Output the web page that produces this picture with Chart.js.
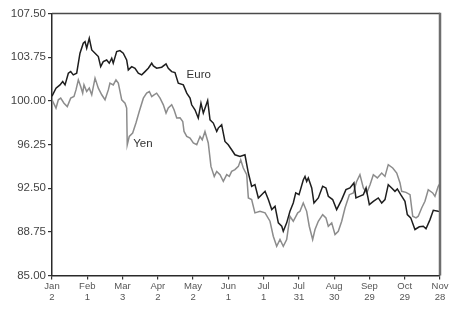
<!DOCTYPE html>
<html>
<head>
<meta charset="utf-8">
<script src="https://cdn.jsdelivr.net/npm/chart.js@4.4.1/dist/chart.umd.min.js"></script>
<style>
    html, body { margin: 0; padding: 0; background: #fff; }
    #wrap { width: 458px; height: 313px; }
</style>
</head>
<body>
<div id="wrap"><canvas id="fx-chart" width="458" height="313"></canvas></div>
<script>
// days counted from Jan 2
var euroDays = [0, 3.4, 6.8, 9.1, 11.1, 13.9, 15.9, 18.1, 21, 23.8, 26.6, 28.1, 29.5, 31.7, 33.8, 36.6, 39.4, 41.4, 43.6, 46.5,
    48.7, 50.8, 52.1, 55, 57.8, 60.6, 63.5, 64.9, 67.8, 70.6, 73.4, 76.3, 79.1, 81.9, 84.8, 86.2, 89, 93.3, 97, 98.9,
    101.8, 104.6, 107.4, 111.7, 114.6, 117.4, 118.8, 121.6, 124.4, 126.7, 128.7, 132.4, 134.4, 137.2, 140.1, 141.4, 144.3, 147.1, 149.9, 152.8,
    155.6, 159.9, 164.1, 167, 169.8, 172.6, 175.5, 178.3, 181.2, 184, 186.9, 189.7, 192.5, 195.4, 196.7, 199.6, 202.4, 205.2, 207.3, 210.1,
    213.7, 215.2, 216.6, 218, 220.9, 222.8, 226.5, 230.2, 233, 235, 238.7, 242.1, 246.4, 250, 253.4, 256.8, 258.5, 261.4, 264.8, 267.1,
    269.9, 273.3, 277.5, 280.4, 283.2, 286, 288.9, 291.7, 293.7, 296.6, 300.2, 302.2, 305.1, 308.7, 312.4, 315.8, 318.1, 321.5, 324.3, 328.5, 330];
var euroValues = [100.4, 101.09, 101.37, 101.66, 101.37, 102.37, 102.51, 102.23, 102.37, 104.09, 104.95, 105.08, 104.52, 105.37, 104.37, 104.09, 103.8, 102.94, 103.37, 103.51,
    103.23, 103.66, 103.23, 104.23, 104.31, 104.09, 103.51, 102.66, 102.94, 102.8, 102.37, 102.23, 102.51, 102.8, 103.23, 103.0, 102.8, 102.89, 103.17, 102.8,
    102.51, 102.43, 101.52, 101.37, 100.66, 100.23, 99.66, 99.23, 98.52, 99.8, 98.95, 100.03, 98.37, 98.09, 97.37, 97.66, 97.94, 96.51, 96.23, 95.8,
    95.37, 95.23, 95.37, 93.8, 92.66, 92.8, 91.66, 91.94, 92.23, 91.52, 90.66, 90.94, 89.52, 89.23, 88.8, 89.52, 90.51, 91.23, 92.09, 91.94,
    93.2, 93.51, 93.08, 93.38, 92.52, 91.23, 91.66, 92.66, 92.52, 91.8, 91.52, 90.66, 91.52, 92.37, 92.52, 92.95, 91.66, 91.8, 91.94, 92.52,
    91.09, 91.37, 91.66, 91.23, 91.52, 92.8, 92.52, 92.23, 92.43, 91.94, 91.37, 90.23, 89.95, 88.95, 89.18, 89.23, 89.01, 89.8, 90.6, 90.51, 90.5];

var yenDays = [0, 3.4, 5.4, 7.4, 10.2, 13, 15.9, 18.7, 20.4, 22.4, 24.4, 26.1, 27.2, 29.5, 31.7, 33.8, 36.6, 39.4, 42.3, 45.1,
    47.9, 49.3, 52.1, 54.4, 56.4, 59.3, 62.1, 63.5, 64, 65.7, 68.6, 71.4, 74.2, 77.7, 80.5, 82.8, 84.8, 86.8, 89, 91.9,
    94.7, 97, 98.9, 101.8, 103.8, 106.1, 108.9, 111.2, 112.3, 114.6, 117.4, 120.2, 123.1, 125.9, 127.8, 130.1, 132.9, 135.2, 138, 140.1,
    142.9, 145.7, 148.6, 150.8, 152.8, 155.6, 158.5, 160.5, 162.7, 165.6, 167, 169.8, 172.6, 176.9, 181.2, 185.4, 188.2, 191.1, 193.9, 196.7,
    199.6, 202.4, 205.2, 209, 210.9, 213.7, 216.6, 218.8, 221.7, 223.7, 226.5, 230.2, 233, 235, 237.9, 240.7, 243.5, 246.4, 249.2, 252.9,
    256.3, 259.1, 261.9, 264.8, 267.7, 270.5, 273.3, 276.7, 280.4, 283.2, 286, 289.8, 293.2, 296, 297.4, 301.1, 304.5, 306.8, 309.6, 311.5,
    314.4, 317.2, 320, 323.8, 325.7, 328.5, 330];
var yenValues = [100.09, 99.38, 100.09, 100.23, 99.8, 99.51, 100.23, 100.37, 100.94, 101.8, 101.23, 100.66, 101.37, 100.8, 101.09, 100.52, 101.95, 101.09, 100.52, 100.09,
    100.94, 101.52, 101.37, 101.8, 101.52, 100.09, 99.8, 99.38, 96.23, 96.94, 97.23, 98.09, 99.08, 100.23, 100.66, 100.8, 100.37, 100.52, 100.66, 100.23,
    99.66, 98.95, 99.38, 99.66, 99.23, 98.52, 98.54, 98.23, 97.37, 96.94, 96.8, 96.38, 96.23, 96.94, 96.66, 97.37, 96.38, 94.37, 93.51, 93.94,
    93.66, 93.08, 93.66, 93.51, 93.94, 94.09, 94.37, 94.94, 94.23, 93.66, 91.66, 91.52, 90.38, 90.51, 90.38, 89.66, 88.37, 87.51, 88.09, 87.51,
    88.09, 90.09, 89.66, 90.38, 90.51, 91.23, 90.51, 89.23, 88.09, 88.95, 89.66, 90.23, 89.95, 89.23, 89.52, 88.52, 88.8, 89.66, 90.8, 91.94,
    92.09, 93.08, 93.66, 92.52, 92.09, 92.8, 93.66, 93.38, 93.8, 93.51, 94.52, 94.23, 93.8, 92.95, 92.23, 92.14, 91.94, 90.09, 89.95, 90.09,
    90.8, 91.37, 92.37, 92.09, 91.8, 92.66, 92.9];

var tickMonths = ['Jan', 'Feb', 'Mar', 'Apr', 'May', 'Jun', 'Jul', 'Jul', 'Aug', 'Sep', 'Oct', 'Nov'];
var tickDates = ['2', '1', '3', '2', '2', '1', '1', '31', '30', '29', '29', '28'];
var tickStep = 30;

function toPoints(days, values) {
    return days.map(function (d, i) { return { x: d, y: values[i] }; });
}

// series names written next to the lines, anchored in data units
var lineLabels = [
    { text: 'Euro', day: 114.5, value: 102.25 },
    { text: 'Yen', day: 69, value: 96.35 }
];

var framePlugin = {
    id: 'frame',
    afterDatasetsDraw: function (chart) {
        var ctx = chart.ctx, a = chart.chartArea;
        ctx.save();
        ctx.strokeStyle = '#4a4a4a';
        ctx.lineWidth = 1.5;
        ctx.beginPath();
        ctx.moveTo(a.left, a.top);
        ctx.lineTo(a.right, a.top);
        ctx.stroke();
        ctx.strokeStyle = '#6e6e6e';
        ctx.lineWidth = 2.5;
        ctx.beginPath();
        ctx.moveTo(a.right, a.top - 0.75);
        ctx.lineTo(a.right, a.bottom);
        ctx.stroke();

        ctx.fillStyle = '#333';
        ctx.font = '11.5px "Liberation Sans", Arial, sans-serif';
        ctx.textBaseline = 'middle';
        ctx.textAlign = 'left';
        lineLabels.forEach(function (l) {
            ctx.fillText(l.text, chart.scales.x.getPixelForValue(l.day), chart.scales.y.getPixelForValue(l.value));
        });
        ctx.restore();
    }
};

var ctx = document.getElementById('fx-chart');
new Chart(ctx, {
    type: 'line',
    data: {
        datasets: [
            {
                label: 'Euro',
                data: toPoints(euroDays, euroValues),
                borderColor: '#1e1e1e',
                borderWidth: 1.5,
                pointRadius: 0,
                tension: 0
            },
            {
                label: 'Yen',
                data: toPoints(yenDays, yenValues),
                borderColor: '#8c8c8c',
                borderWidth: 1.5,
                pointRadius: 0,
                tension: 0
            }
        ]
    },
    options: {
        responsive: false,
        animation: false,
        layout: { padding: { top: 13.5, right: 18, left: 0, bottom: 0 } },
        plugins: {
            legend: { display: false },
            tooltip: { enabled: false }
        },
        scales: {
            x: {
                type: 'linear',
                min: 0,
                max: 330,
                afterBuildTicks: function (scale) {
                    scale.ticks = tickMonths.map(function (m, i) { return { value: i * tickStep }; });
                },
                afterFit: function (scale) { scale.height = 37.5; },
                ticks: {
                    autoSkip: false,
                    maxRotation: 0,
                    padding: 1,
                    color: '#555',
                    font: { family: '"Liberation Sans", Arial, sans-serif', size: 9.5, lineHeight: 1.15 },
                    callback: function (v) {
                        var i = Math.round(v / tickStep);
                        return [tickMonths[i], tickDates[i]];
                    }
                },
                grid: { drawOnChartArea: false, drawTicks: true, tickLength: 4, color: '#333', lineWidth: 1.2 },
                border: { display: true, color: '#2a2a2a', width: 1.5 }
            },
            y: {
                min: 85,
                max: 107.5,
                afterBuildTicks: function (scale) {
                    var t = [];
                    for (var v = 85; v <= 107.5; v += 3.75) t.push({ value: v });
                    scale.ticks = t;
                },
                afterFit: function (scale) { scale.width = 52; },
                ticks: {
                    padding: 2,
                    color: '#444',
                    font: { family: '"Liberation Sans", Arial, sans-serif', size: 11.5 },
                    callback: function (v) { return v.toFixed(2); }
                },
                grid: { drawOnChartArea: false, drawTicks: true, tickLength: 4, color: '#333', lineWidth: 1.2 },
                border: { display: true, color: '#2a2a2a', width: 1.5 }
            }
        }
    },
    plugins: [framePlugin]
});
</script>
</body>
</html>
